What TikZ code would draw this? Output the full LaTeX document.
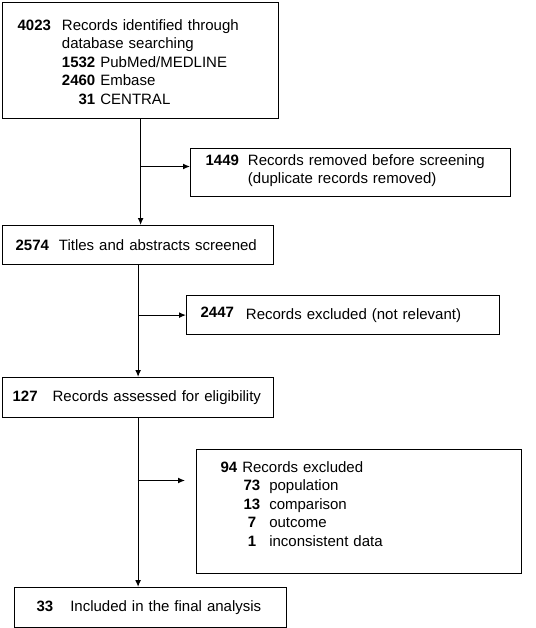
\documentclass[tikz,border=0pt]{standalone}
\usepackage{fontspec}
\setmainfont{Liberation Sans}
\usepackage{tikz}
\usetikzlibrary{arrows.meta}
\newcommand{\cnt}[1]{\textbf{#1}}

\begin{document}
\begin{tikzpicture}[x=1pt,y=-1pt,font=\fontsize{15}{18.5}\selectfont,>={Latex[length=7pt,width=6pt]},
  bx/.style={draw,line width=1.2pt,anchor=north west,align=left,inner ysep=0pt,text width=#1},
  ln/.style={line width=1.2pt}]
  \useasboundingbox (0,0) rectangle (535,628);
  % boxes
  \node[bx=246pt,inner xsep=15pt,minimum height=116pt] (src) at (2,2)
    {\begin{tabular}{@{}l@{\hspace{11pt}}r@{\ }l@{}}
      \cnt{4023}\rule{0pt}{19pt} & \multicolumn{2}{@{}l@{}}{Records identified through}\\
      & \multicolumn{2}{@{}l@{}}{database searching}\\
      & \cnt{1532} & PubMed/MEDLINE\\
      & \cnt{2460} & Embase\\
      & \cnt{31} & CENTRAL
    \end{tabular}};
  \node[bx=290pt,inner xsep=15pt,minimum height=48pt] (dup) at (190,148)
    {\begin{tabular}{@{}l@{\hspace{9pt}}l@{}}
      \cnt{1449} & Records removed before screening\\
      & (duplicate records removed)\rule[-9pt]{0pt}{1pt}
    \end{tabular}};
  \node[bx=245pt,inner xsep=13pt,minimum height=39pt] (scr) at (2,225)
    {\cnt{2574}\hspace{10pt}Titles and abstracts screened};
  \node[bx=285pt,inner xsep=14pt,minimum height=39pt] (excl) at (186,295)
    {\raisebox{2pt}{\cnt{2447}}\hspace{12pt}Records excluded (not relevant)};
  \node[bx=251pt,inner xsep=10pt,minimum height=40pt] (elig) at (2,377)
    {\cnt{127}\hspace{15pt}Records assessed for eligibility};
  \node[bx=277pt,inner xsep=24pt,minimum height=124pt] (rej) at (196,449)
    {\begin{tabular}{@{\hspace{23pt}}c@{\hspace{9pt}}l@{}}
      \multicolumn{2}{@{}l@{}}{\cnt{94} Records excluded}\\
      \cnt{73} & population\\
      \cnt{13} & comparison\\
      \cnt{7} & outcome\\
      \cnt{1} & inconsistent data\rule[-17.5pt]{0pt}{1pt}
    \end{tabular}};
  \node[bx=228pt,inner xsep=22pt,minimum height=40pt] (incl) at (14,587)
    {\cnt{33}\hspace{17pt}Included in the final analysis};
  % connectors
  \coordinate (j1) at (140,166.5);
  \coordinate (j3) at (137.5,480.5);
  \coordinate (j3e) at (185,480.5);
  \draw[ln,->] (src.south) -- (src.south |- scr.north);
  \draw[ln,->] (j1) -- (j1 -| dup.west);
  \draw[ln,->] (scr.south) -- (scr.south |- elig.north);
  \draw[ln,->] (scr.south |- excl.west) -- (excl.west);
  \draw[ln,->] (elig.south) -- (elig.south |- incl.north);
  \draw[ln,->] (j3) -- (j3e);
\end{tikzpicture}
\end{document}
